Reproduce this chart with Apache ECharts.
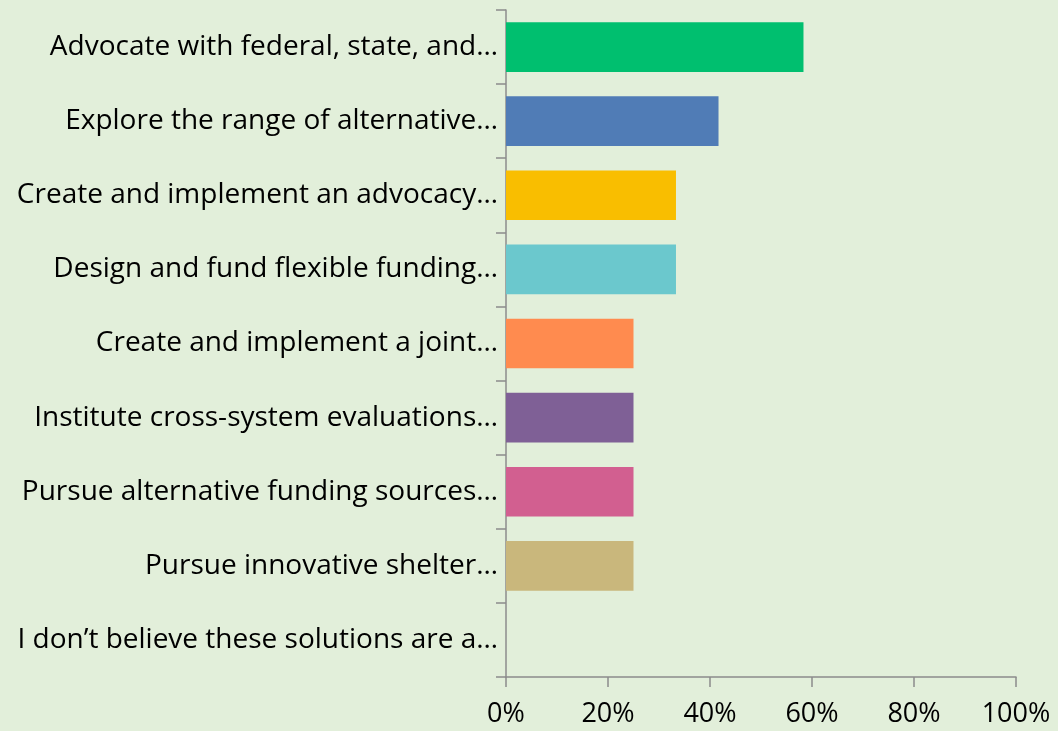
<!DOCTYPE html>
<html>
<head>
<meta charset="utf-8">
<script src="https://cdn.jsdelivr.net/npm/echarts@6/dist/echarts.min.js"></script>
<style>
  html, body { margin: 0; padding: 0; background: #E2EFDA; }
  #chart { width: 1058px; height: 731px; }
</style>
</head>
<body>
<div id="chart"></div>
<script>
const categories = [
  "Advocate with federal, state, and…",
  "Explore the range of alternative…",
  "Create and implement an advocacy…",
  "Design and fund flexible funding…",
  "Create and implement a joint…",
  "Institute cross-system evaluations…",
  "Pursue alternative funding sources…",
  "Pursue innovative shelter…",
  "I don’t believe these solutions are a…"
];
const values = [58.33, 41.67, 33.33, 33.33, 25, 25, 25, 25, 0];
const barColors = ["#00BF6F", "#507CB6", "#F9BE00", "#6BC8CD", "#FF8B4F", "#7F6096", "#D25F90", "#C9B77C", "#C9B77C"];
const xTicks = [0, 20, 40, 60, 80, 100];

const font = "'Open Sans', Lato, sans-serif";
const axisGray = "#8C8C8C";

const chart = echarts.init(document.getElementById("chart"));
chart.setOption({
  backgroundColor: "#E2EFDA",
  animation: false,
  grid: { left: 506, right: 42, top: 10, bottom: 54, containLabel: false },
  xAxis: {
    type: "value",
    min: xTicks[0],
    max: xTicks[xTicks.length - 1],
    interval: 20,
    axisLine: { show: true, lineStyle: { color: axisGray, width: 1.5 } },
    axisTick: { show: true, length: 10, lineStyle: { color: axisGray, width: 1.5 } },
    splitLine: { show: false },
    axisLabel: {
      formatter: (v) => v + "%",
      color: "#000",
      fontSize: 27,
      fontFamily: font,
      margin: 24
    }
  },
  yAxis: {
    type: "category",
    inverse: true,
    data: categories,
    axisLine: { show: true, lineStyle: { color: axisGray, width: 1.5 } },
    axisTick: { show: true, length: 10, lineStyle: { color: axisGray, width: 1.5 } },
    axisLabel: {
      color: "#000",
      fontSize: 28,
      fontFamily: font,
      margin: 8
    }
  },
  series: [{
    type: "bar",
    data: values.map((v, i) => ({ value: v, itemStyle: { color: barColors[i] } })),
    barCategoryGap: "33%"
  }]
});
</script>
</body>
</html>
